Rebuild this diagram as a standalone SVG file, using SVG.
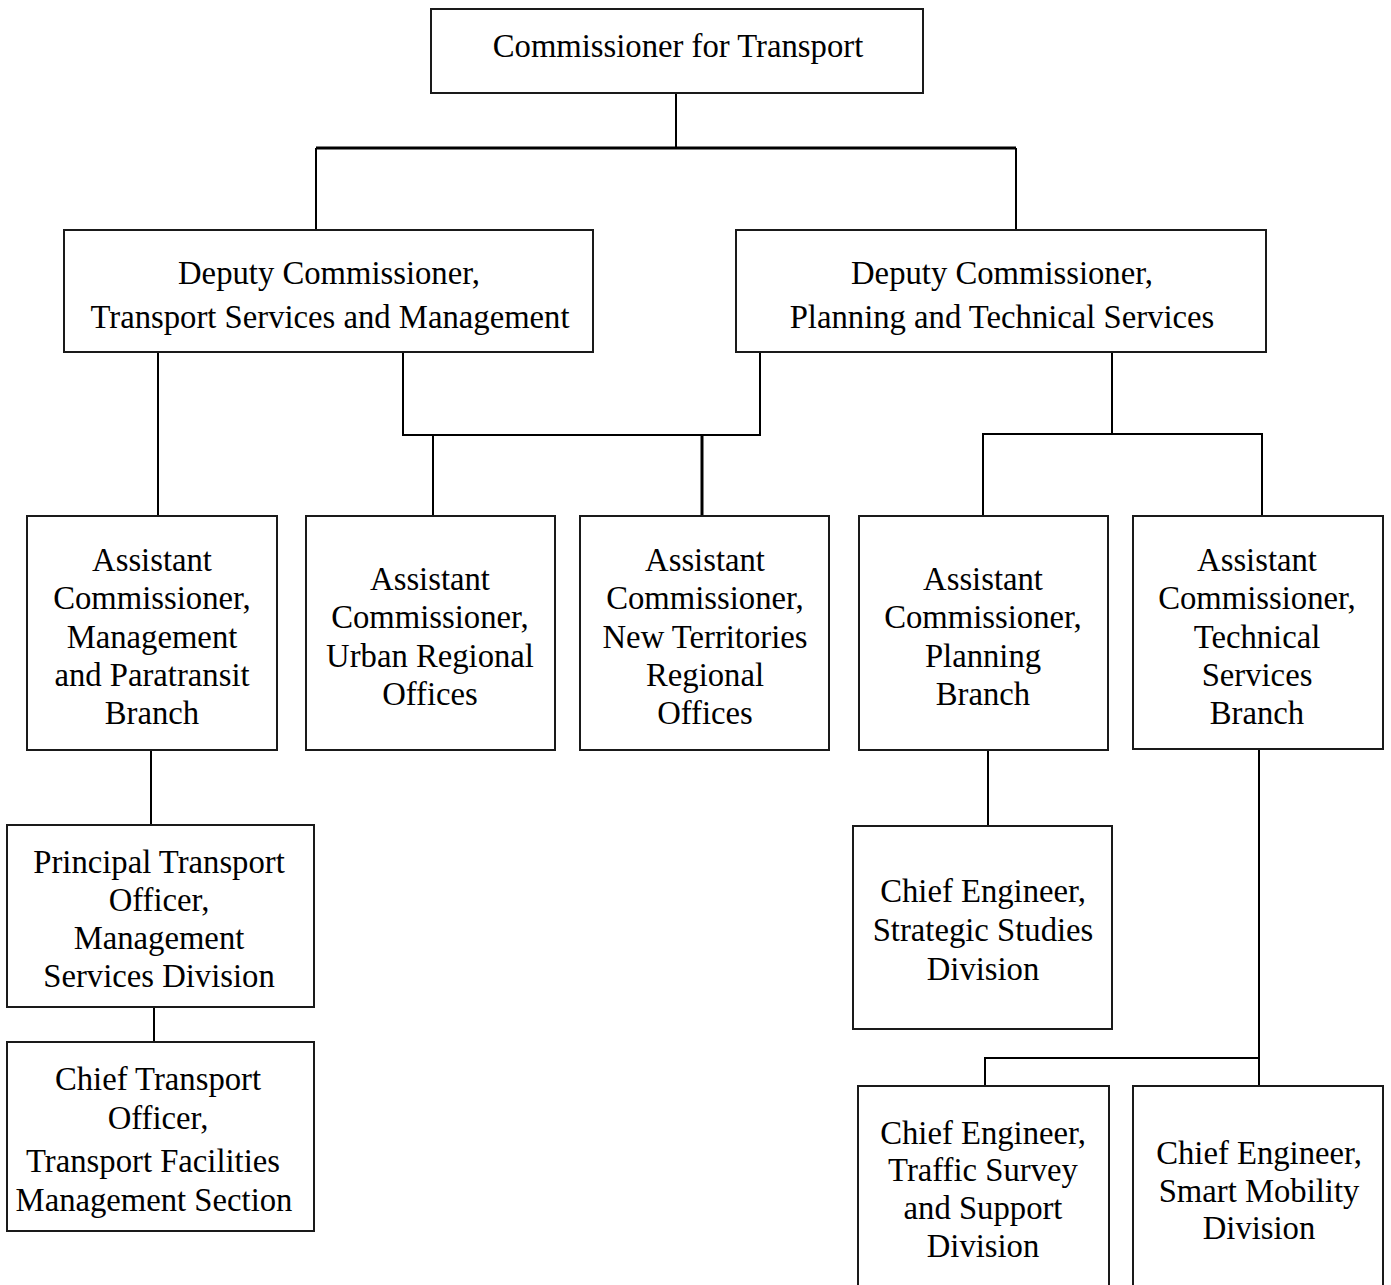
<svg xmlns="http://www.w3.org/2000/svg" width="1391" height="1285" viewBox="0 0 1391 1285">
<style>
.box{fill:#fff;stroke:#1a1a1a;stroke-width:2}
.t{font-family:"Liberation Serif","Times New Roman",serif;font-size:32.7px;fill:#000;text-anchor:middle}
.c{fill:none;stroke:#000;stroke-width:2}
.c3{fill:none;stroke:#000;stroke-width:3}
</style>
<rect width="1391" height="1285" fill="#fff"/>
<g id="connectors">
<path class="c" d="M676,93V148M316,148V230M1016,148V230"/>
<path class="c3" d="M316,148H1016"/>
<path class="c" d="M158,352V516"/>
<path class="c" d="M403,352V435H760V352M433,435V516"/>
<path class="c3" d="M702,435V516"/>
<path class="c" d="M1112,352V434M983,516V434H1262V516"/>
<path class="c" d="M151,750V825M154,1007V1042"/>
<path class="c" d="M988,750V826"/>
<path class="c" d="M1259,749V1086M985,1086V1058H1259"/>
</g>
<g id="n-commissioner">
<rect class="box" x="431" y="9" width="492" height="84"/>
<text class="t" x="678" y="57">Commissioner for Transport</text>
</g>
<g id="n-dc-tsm">
<rect class="box" x="64" y="230" width="529" height="122"/>
<text class="t" x="329" y="284">Deputy Commissioner,</text>
<text class="t" x="330" y="328">Transport Services and Management</text>
</g>
<g id="n-dc-pts">
<rect class="box" x="736" y="230" width="530" height="122"/>
<text class="t" x="1002" y="284">Deputy Commissioner,</text>
<text class="t" x="1002" y="328">Planning and Technical Services</text>
</g>
<g id="n-ac-mpb">
<rect class="box" x="27" y="516" width="250" height="234"/>
<text class="t" x="152" y="571">Assistant</text>
<text class="t" x="152" y="609">Commissioner,</text>
<text class="t" x="152" y="648">Management</text>
<text class="t" x="152" y="686">and Paratransit</text>
<text class="t" x="152" y="724">Branch</text>
</g>
<g id="n-ac-uro">
<rect class="box" x="306" y="516" width="249" height="234"/>
<text class="t" x="430" y="590">Assistant</text>
<text class="t" x="430" y="628">Commissioner,</text>
<text class="t" x="430" y="667">Urban Regional</text>
<text class="t" x="430" y="705">Offices</text>
</g>
<g id="n-ac-ntro">
<rect class="box" x="580" y="516" width="249" height="234"/>
<text class="t" x="705" y="571">Assistant</text>
<text class="t" x="705" y="609">Commissioner,</text>
<text class="t" x="705" y="648">New Territories</text>
<text class="t" x="705" y="686">Regional</text>
<text class="t" x="705" y="724">Offices</text>
</g>
<g id="n-ac-pb">
<rect class="box" x="859" y="516" width="249" height="234"/>
<text class="t" x="983" y="590">Assistant</text>
<text class="t" x="983" y="628">Commissioner,</text>
<text class="t" x="983" y="667">Planning</text>
<text class="t" x="983" y="705">Branch</text>
</g>
<g id="n-ac-tsb">
<rect class="box" x="1133" y="516" width="250" height="233"/>
<text class="t" x="1257" y="571">Assistant</text>
<text class="t" x="1257" y="609">Commissioner,</text>
<text class="t" x="1257" y="648">Technical</text>
<text class="t" x="1257" y="686">Services</text>
<text class="t" x="1257" y="724">Branch</text>
</g>
<g id="n-pto-msd">
<rect class="box" x="7" y="825" width="307" height="182"/>
<text class="t" x="159" y="873">Principal Transport</text>
<text class="t" x="159" y="911">Officer,</text>
<text class="t" x="159" y="949">Management</text>
<text class="t" x="159" y="987">Services Division</text>
</g>
<g id="n-cto-tfms">
<rect class="box" x="7" y="1042" width="307" height="189"/>
<text class="t" x="158" y="1090">Chief Transport</text>
<text class="t" x="158" y="1129">Officer,</text>
<text class="t" x="153" y="1172">Transport Facilities</text>
<text class="t" x="154" y="1211">Management Section</text>
</g>
<g id="n-ce-ssd">
<rect class="box" x="853" y="826" width="259" height="203"/>
<text class="t" x="983" y="902">Chief Engineer,</text>
<text class="t" x="983" y="941">Strategic Studies</text>
<text class="t" x="983" y="980">Division</text>
</g>
<g id="n-ce-tssd">
<rect class="box" x="858" y="1086" width="251" height="230"/>
<text class="t" x="983" y="1144">Chief Engineer,</text>
<text class="t" x="983" y="1181">Traffic Survey</text>
<text class="t" x="983" y="1219">and Support</text>
<text class="t" x="983" y="1257">Division</text>
</g>
<g id="n-ce-smd">
<rect class="box" x="1133" y="1086" width="250" height="230"/>
<text class="t" x="1259" y="1164">Chief Engineer,</text>
<text class="t" x="1259" y="1202">Smart Mobility</text>
<text class="t" x="1259" y="1239">Division</text>
</g>
</svg>
